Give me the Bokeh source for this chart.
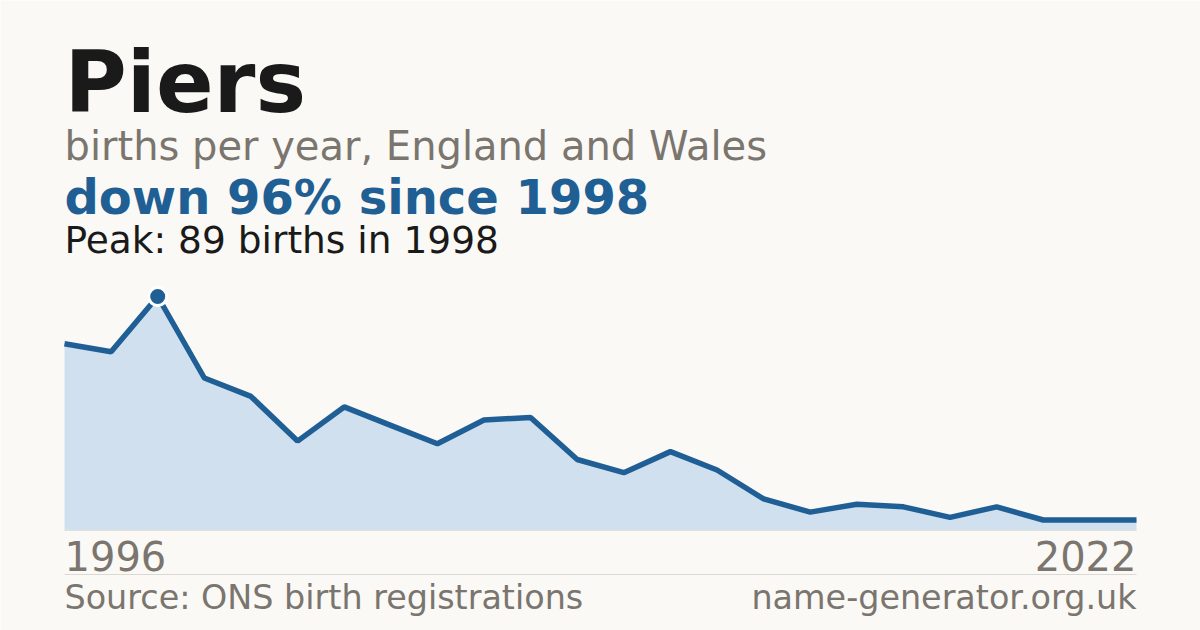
from bokeh.plotting import figure
from bokeh.models import Range1d, Label, BoxAnnotation
from bokeh.embed import file_html
from bokeh.resources import INLINE

# ---- data ----
name = "Piers"
first_year = "1996"
last_year = "2022"
peak_year = "1998"
values = [71, 68, 89, 58, 51, 34, 47, 40, 33, 42, 43, 27, 22, 30, 23, 12, 7, 10, 9, 5, 9, 4, 4, 4]
x = list(range(len(values)))

# ---- layout ----
W, H = 1200, 630
left_px, right_px = 64, 1136
zero_px = 530         # y=0, from top of canvas
peak_px = 296         # y=peak, from top of canvas
peak = max(values)
unit_px = (zero_px - peak_px) / peak
step_px = (right_px - left_px) / (len(values) - 1)

BG = "#faf9f5"
BLUE = "#1f5f96"
FILL = "#d0e0ef"
GREY = "#7a756e"
DARK = "#1a1a1a"
FONT = "DejaVu Sans"

x_start = x[0] - left_px / step_px
x_end = x[-1] + (W - right_px) / step_px
y_start = -(H - zero_px) / unit_px
y_end = zero_px / unit_px

p = figure(width=W, height=H, output_backend="svg", toolbar_location=None,
           x_range=Range1d(x_start, x_end), y_range=Range1d(y_start, y_end),
           min_border=0, min_border_left=0, min_border_right=0,
           min_border_top=0, min_border_bottom=0)
p.axis.visible = False
p.grid.visible = False
p.outline_line_color = None
p.background_fill_color = BG
p.border_fill_color = BG

p.varea(x=x, y1=[0] * len(values), y2=values, fill_color=FILL, fill_alpha=1)
p.line(x=[x[0], x[-1]], y=[0, 0], line_color="#e6e0d6", line_width=1)
p.line(x=x, y=values, line_color=BLUE, line_width=5.5)

peak_i = values.index(peak)
p.scatter(x=[x[peak_i]], y=[values[peak_i]], size=18, fill_color=BLUE,
          line_color="white", line_width=3)

last = values[-1]
pct = round((peak - last) / peak * 100)

def lab(text, baseline_top, size, color, bold=False, align="left", xpos=None):
    y = H - baseline_top + 0.36 * size
    p.add_layout(Label(x=left_px if xpos is None else xpos, y=y,
                       x_units="screen", y_units="screen", text=text,
                       text_font=FONT, text_font_size=f"{size}px", text_color=color,
                       text_font_style="bold" if bold else "normal",
                       text_align=align, text_baseline="alphabetic"))

lab(name, 113, 85, DARK, bold=True)
lab("births per year, England and Wales", 160, 40, GREY)
lab(f"down {pct}% since {peak_year}", 214, 48, "#1f5f94", bold=True)
lab(f"Peak: {peak} births in {peak_year}", 253, 37.5, DARK)
lab(first_year, 570, 40, GREY)
lab(last_year, 570, 40, GREY, align="right", xpos=right_px)
lab("Source: ONS birth registrations", 609, 33.4, GREY)
lab("name-generator.org.uk", 609, 33.4, GREY, align="right", xpos=right_px)

p.add_layout(BoxAnnotation(left=left_px, right=right_px, bottom=H - 574.5, top=H - 573.5,
                           left_units="screen", right_units="screen",
                           bottom_units="screen", top_units="screen",
                           fill_color="#dcd9d2", fill_alpha=1, line_color=None))

open("out.html", "w").write(file_html(p, INLINE))
